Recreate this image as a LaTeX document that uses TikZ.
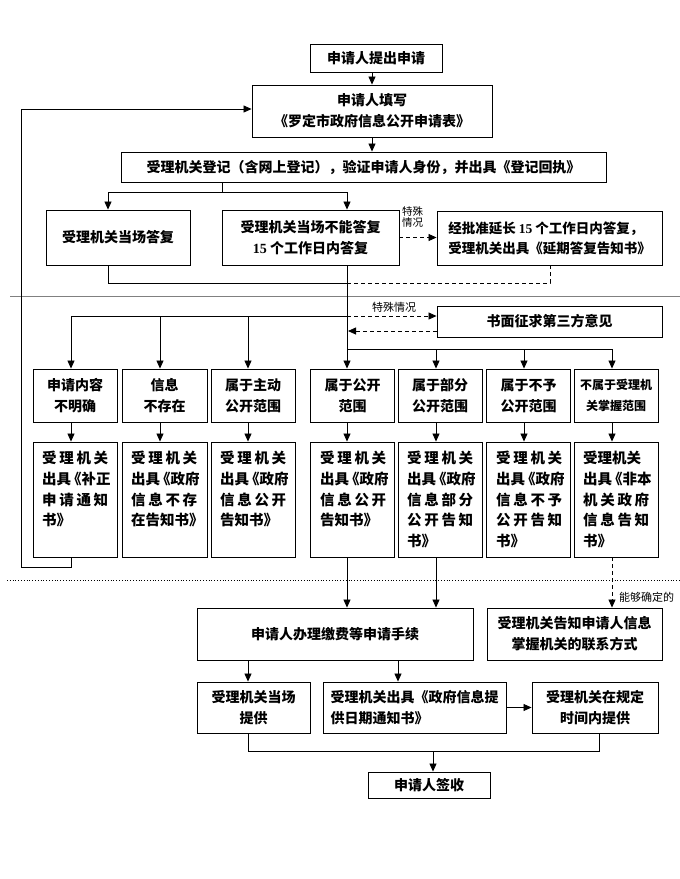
\documentclass[tikz,border=0pt]{standalone}
\usepackage{fontspec}
\setmainfont{Noto Sans CJK SC}
\newfontfamily\lat{Liberation Serif}
\usetikzlibrary{arrows.meta}
\newcommand\fz[2]{\fontsize{#1}{#2}\selectfont}
\newcommand\sprd[4]{\makebox[66pt][s]{#1\hfil#2\hfil#3\hfil#4}}
\newcommand\bkl{\kern-4pt《}
\begin{document}
\begin{tikzpicture}[x=1pt,y=-1pt,
  box/.style={draw, line width=0.9pt, inner sep=0pt, align=center, font=\bfseries\fz{14}{21}},
  tbox/.style={inner sep=0pt, align=left, anchor=north west, font=\bfseries\fz{14.5}{20.7}},
  lab/.style={inner sep=0pt, font=\fz{10.5}{11}},
  ln/.style={line width=0.8pt},
  arr/.style={ln,-{Triangle[length=8pt,width=7pt]}},
  darr/.style={arr,dash pattern=on 4pt off 3pt},
  dln/.style={ln,dash pattern=on 4pt off 3pt}]
\useasboundingbox (0,0) rectangle (680,879);

% separators
\draw[line width=0.8pt, gray] (10,296) -- (680,296);
\draw[line width=0.8pt, dotted] (7,580) -- (680,580);

% top part
\node[box,minimum width=132,minimum height=28] (n1) at (376,58) {申请人提出申请};
\node[box,minimum width=240,minimum height=52] (n2) at (372,111) {申请人填写\\《罗定市政府信息公开申请表》};
\node[box,minimum width=485,minimum height=30] (n3) at (363.5,167) {受理机关登记（含网上登记），验证申请人身份，并出具《登记回执》};
\node[box,minimum width=144,minimum height=55] (n4) at (118,237.5) {受理机关当场答复};
\node[box,minimum width=177,minimum height=55] (n5) at (310.5,237.5) {受理机关当场不能答复\\{\lat 15} 个工作日内答复};
\node[box,minimum width=225,minimum height=54,align=left,font=\bfseries\fz{13.5}{20}] (n6) at (549.5,238) {经批准延长 {\lat 15} 个工作日内答复，\\受理机关出具《延期答复告知书》};
\node[box,minimum width=225,minimum height=31] (n7) at (549.5,321.5) {书面征求第三方意见};

\node[lab,align=left,anchor=north west] (l1) at (402,206) {特殊\\情况};
\node[lab,anchor=south,font=\fz{11}{12}] (l2) at (394,313) {特殊情况};

% row A
\node[box,minimum width=84,minimum height=53] (a1) at (75,395.5) {申请内容\\不明确};
\node[box,minimum width=85,minimum height=53] (a2) at (164.5,395.5) {信息\\不存在};
\node[box,minimum width=84,minimum height=53] (a3) at (253,395.5) {属于主动\\公开范围};
\node[box,minimum width=84,minimum height=53] (a4) at (352.5,395.5) {属于公开\\范围};
\node[box,minimum width=84,minimum height=53] (a5) at (440,395.5) {属于部分\\公开范围};
\node[box,minimum width=84,minimum height=53] (a6) at (528.5,395.5) {属于不予\\公开范围};
\node[box,minimum width=84,minimum height=53,font=\bfseries\fz{12}{21}] (a7) at (616,395.5) {不属于受理机\\关掌握范围};

% row B
\node[box,minimum width=84,minimum height=115] (b1) at (75,499.5) {};
\node[box,minimum width=85,minimum height=115] (b2) at (164.5,499.5) {};
\node[box,minimum width=84,minimum height=115] (b3) at (253,499.5) {};
\node[box,minimum width=84,minimum height=115] (b4) at (352.5,499.5) {};
\node[box,minimum width=84,minimum height=115] (b5) at (440,499.5) {};
\node[box,minimum width=84,minimum height=115] (b6) at (528.5,499.5) {};
\node[box,minimum width=84,minimum height=115] (b7) at (616,499.5) {};
\node[tbox] (b1t) at (42,451) {\sprd{受}{理}{机}{关}\\出具\bkl{}补正\\\sprd{申}{请}{通}{知}\\书》};
\node[tbox] (b2t) at (131,451) {\sprd{受}{理}{机}{关}\\出具\bkl{}政府\\\sprd{信}{息}{不}{存}\\在告知书》};
\node[tbox] (b3t) at (220,451) {\sprd{受}{理}{机}{关}\\出具\bkl{}政府\\\sprd{信}{息}{公}{开}\\告知书》};
\node[tbox] (b4t) at (320,451) {\sprd{受}{理}{机}{关}\\出具\bkl{}政府\\\sprd{信}{息}{公}{开}\\告知书》};
\node[tbox] (b5t) at (407,451) {\sprd{受}{理}{机}{关}\\出具\bkl{}政府\\\sprd{信}{息}{部}{分}\\\sprd{公}{开}{告}{知}\\书》};
\node[tbox] (b6t) at (496,451) {\sprd{受}{理}{机}{关}\\出具\bkl{}政府\\\sprd{信}{息}{不}{予}\\\sprd{公}{开}{告}{知}\\书》};
\node[tbox] (b7t) at (583,451) {受理机关\\出具\bkl{}非本\\\sprd{机}{关}{政}{府}\\\sprd{信}{息}{告}{知}\\书》};

% bottom part
\node[box,minimum width=276,minimum height=52] (p) at (335,634) {申请人办理缴费等申请手续};
\node[box,minimum width=175,minimum height=52] (q) at (574.5,634) {受理机关告知申请人信息\\掌握机关的联系方式};
\node[lab,anchor=west,font=\fz{11}{12}] (l3) at (619,597) {能够确定的};
\node[box,minimum width=113,minimum height=51] (s1) at (253.5,707.5) {受理机关当场\\提供};
\node[box,minimum width=183,minimum height=51,align=left] (s2) at (414.5,707.5) {受理机关出具《政府信息提\\供日期通知书》};
\node[box,minimum width=126,minimum height=51] (s3) at (595,707.5) {受理机关在规定\\时间内提供};
\node[box,minimum width=122,minimum height=26] (t) at (429,785) {申请人签收};

% connectors top
\draw[arr] (n1.south -| n2.north) -- (n2.north);
\draw[arr] (n2.south) -- (n2.south |- n3.north);
\coordinate (j1) at (222,192);
\coordinate (j1L) at (108,192);
\coordinate (j1R) at (347,192);
\draw[ln] (n3.south -| j1) -- (j1);
\draw[arr] (j1R) -- (j1L) -- (j1L |- n4.north);
\draw[arr] (j1R) -- (j1R |- n5.north);
\draw[darr] (n5.east) -- (n5.east -| n6.west);

\coordinate (k1) at (108,283);
\coordinate (k2) at (347,283);
\coordinate (k3) at (550,283);
\draw[ln] (n4.south -| k1) -- (k1) -- (k2);
\draw[dln] (k2) -- (k3) -- (k3 |- n6.south);
\draw[arr] (n5.south -| k2) -- (k2 |- a4.north);

\coordinate (m) at (347,316);
\coordinate (bl1) at (71,316);
\coordinate (bl2) at (160,316);
\coordinate (bl3) at (248,316);
\draw[ln] (m) -- (bl1);
\draw[arr] (bl1) -- (bl1 |- a1.north);
\draw[arr] (bl2) -- (bl2 |- a2.north);
\draw[arr] (bl3) -- (bl3 |- a3.north);
\draw[darr] (m) -- (m -| n7.west);
\coordinate (m2) at (348,331);
\draw[darr] (m2 -| n7.west) -- (m2);

\coordinate (br4) at (347,349);
\coordinate (br5) at (436,349);
\coordinate (br6) at (524,349);
\coordinate (br7) at (612,349);
\draw[ln] (br4) -- (br7);
\draw[arr] (br5) -- (br5 |- a5.north);
\draw[arr] (br6) -- (br6 |- a6.north);
\draw[arr] (br7) -- (br7 |- a7.north);

% row A -> row B
\draw[arr] (a1.south -| bl1) -- (b1.north -| bl1);
\draw[arr] (a2.south -| bl2) -- (b2.north -| bl2);
\draw[arr] (a3.south -| bl3) -- (b3.north -| bl3);
\draw[arr] (a4.south -| br4) -- (b4.north -| br4);
\draw[arr] (a5.south -| br5) -- (b5.north -| br5);
\draw[arr] (a6.south -| br6) -- (b6.north -| br6);
\draw[arr] (a7.south -| br7) -- (b7.north -| br7);

% loop back
\coordinate (lp1) at (71,567);
\coordinate (lp2) at (21,567);
\coordinate (lp3) at (21,109);
\draw[arr] (b1.south -| lp1) -- (lp1) -- (lp2) -- (lp3) -- (lp3 -| n2.west);

% row B -> bottom
\draw[arr] (b4.south -| br4) -- (br4 |- p.north);
\draw[arr] (b5.south -| br5) -- (br5 |- p.north);
\draw[darr] (b7.south -| br7) -- (br7 |- q.north);
\draw[arr] (p.south -| bl3) -- (bl3 |- s1.north);
\coordinate (pc) at (398,670);
\draw[arr] (p.south -| pc) -- (pc |- s2.north);
\draw[arr] (s2.east) -- (s2.east -| s3.west);
\coordinate (u1) at (248,751);
\coordinate (u2) at (599,751);
\coordinate (u3) at (433,751);
\draw[ln] (s1.south -| u1) -- (u1) -- (u2) -- (u2 |- s3.south);
\draw[arr] (u3) -- (u3 |- t.north);
\end{tikzpicture}
\end{document}
